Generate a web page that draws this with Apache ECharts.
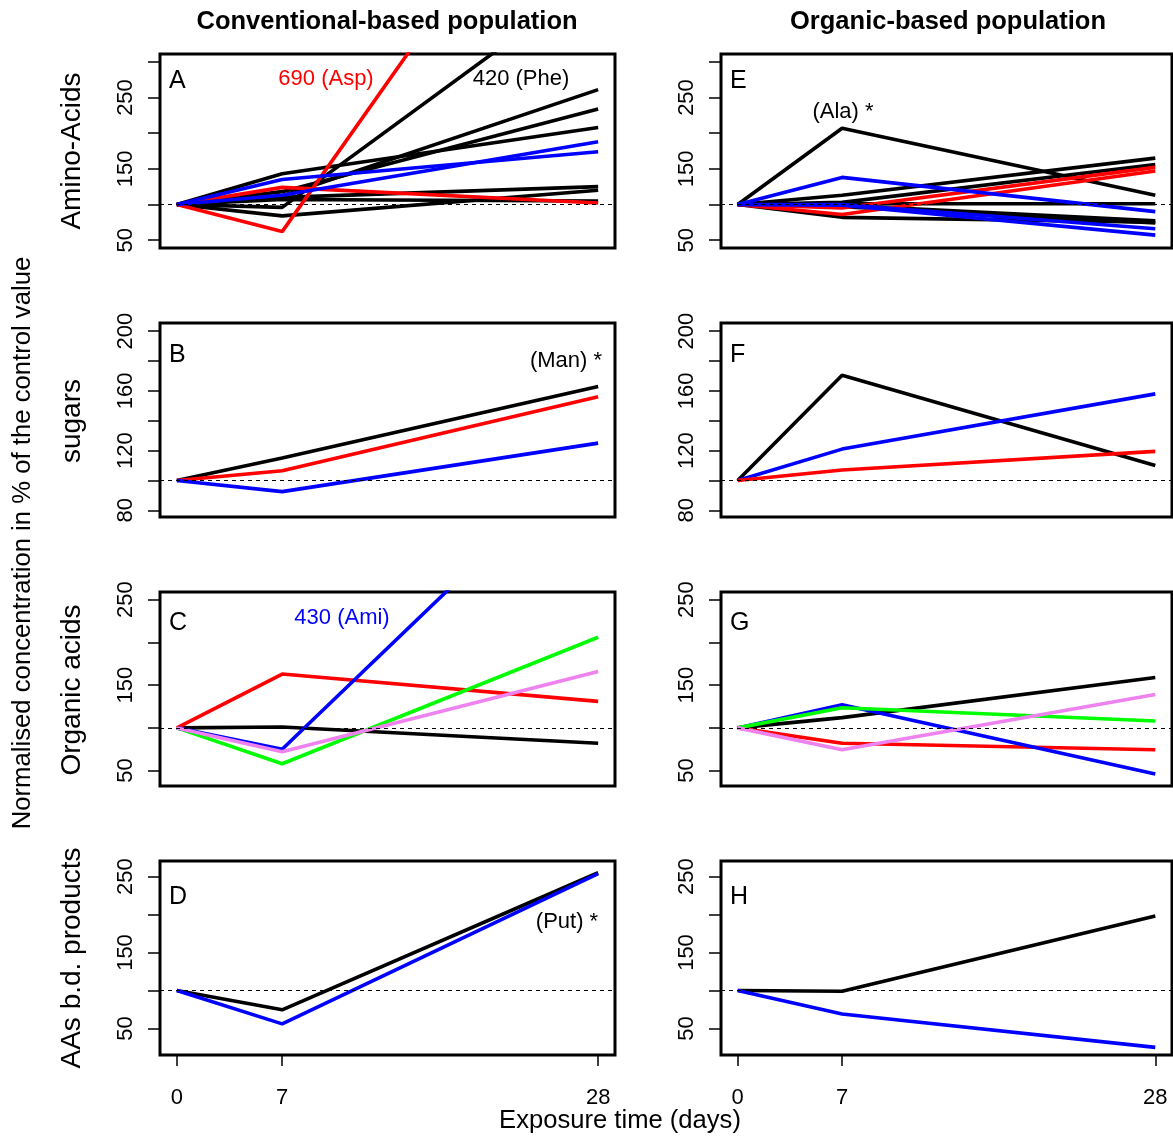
<!DOCTYPE html>
<html>
<head>
<meta charset="utf-8">
<script src="https://cdn.jsdelivr.net/npm/echarts@6/dist/echarts.min.js"></script>
<style>
html, body { margin: 0; padding: 0; background: #fff; }
#main { width: 1173px; height: 1138px; }
</style>
</head>
<body>
<div id="main"></div>
<script>
/* 时间点 (天) */
var days = [0, 7, 28];

// A: amino acids, conventional-based population  (values at day 0 / 7 / 28)
var aaConvBlack = [[100, 96, 420], [100, 112, 261], [100, 118, 234], [100, 143, 208], [100, 110, 125], [100, 84, 120], [100, 107, 105]];
var aaConvBlue = [[100, 135, 174], [100, 113, 188]];
var aaConvRed = [[100, 62, 690], [100, 124, 102]];

// E: amino acids, organic-based population
var aaOrgBlack = [[100, 207, 113], [100, 113, 165], [100, 103, 156], [100, 101, 101], [100, 82, 75], [100, 99, 77], [100, 97, 74]];
var aaOrgBlue = [[100, 138, 90], [100, 100, 66], [100, 99, 57]];
var aaOrgRed = [[100, 86, 147], [100, 95, 152]];

// B / F: sugars
var sugConvBlack = [[100, 115, 163]];
var sugConvRed = [[100, 106.5, 156]];
var sugConvBlue = [[100, 92.5, 125]];
var sugOrgBlack = [[100, 170.5, 110]];
var sugOrgBlue = [[100, 121, 158]];
var sugOrgRed = [[100, 107, 119.5]];

// C / G: organic acids
var oaConvRed = [[100, 163, 131]];
var oaConvGreen = [[100, 58, 206]];
var oaConvViolet = [[100, 72, 166]];
var oaConvBlack = [[100, 101, 82]];
var oaConvBlue = [[100, 75, 430]];
var oaOrgBlack = [[100, 112, 159]];
var oaOrgGreen = [[100, 123.5, 108]];
var oaOrgRed = [[100, 82, 74.5]];
var oaOrgViolet = [[100, 74.5, 139]];
var oaOrgBlue = [[100, 127, 46]];

// D / H: AAs breakdown products
var prConvBlack = [[100, 74.5, 255]];
var prConvBlue = [[100, 56, 254]];
var prOrgBlack = [[100, 99, 198]];
var prOrgBlue = [[100, 69, 25]];

// axis ticks / labels
var xTicks = [0, 7, 28];
var yTicksAA = [50, 100, 150, 200, 250, 300];
var yLabelsAA = [50, 150, 250];
var yTicksSug = [80, 100, 120, 140, 160, 180, 200];
var yLabelsSug = [80, 120, 160, 200];
var yTicksOA = [50, 100, 150, 200, 250];
var yLabelsOA = [50, 150, 250];
var yTicksPr = [50, 100, 150, 200, 250];
var yLabelsPr = [50, 150, 250];

var FONT = '"Liberation Sans", Arial, Helvetica, sans-serif';

var rowAxis = [
	{ min: 39, max: 311, ticks: yTicksAA, labels: yLabelsAA },
	{ min: 75.5, max: 205.5, ticks: yTicksSug, labels: yLabelsSug },
	{ min: 32, max: 259, ticks: yTicksOA, labels: yLabelsOA },
	{ min: 15, max: 270.5, ticks: yTicksPr, labels: yLabelsPr }
];

// 面板: row, col, 线组
var panels = [
	{ row: 0, col: 0, groups: [[aaConvBlack, '#000000'], [aaConvRed, '#ff0000'], [aaConvBlue, '#0000ff']] },
	{ row: 0, col: 1, groups: [[aaOrgBlack, '#000000'], [aaOrgRed, '#ff0000'], [aaOrgBlue, '#0000ff']] },
	{ row: 1, col: 0, groups: [[sugConvBlack, '#000000'], [sugConvRed, '#ff0000'], [sugConvBlue, '#0000ff']] },
	{ row: 1, col: 1, groups: [[sugOrgBlack, '#000000'], [sugOrgBlue, '#0000ff'], [sugOrgRed, '#ff0000']] },
	{ row: 2, col: 0, groups: [[oaConvBlack, '#000000'], [oaConvRed, '#ff0000'], [oaConvGreen, '#00ff00'], [oaConvBlue, '#0000ff'], [oaConvViolet, '#ee82ee']] },
	{ row: 2, col: 1, groups: [[oaOrgBlack, '#000000'], [oaOrgRed, '#ff0000'], [oaOrgBlue, '#0000ff'], [oaOrgGreen, '#00ff00'], [oaOrgViolet, '#ee82ee']] },
	{ row: 3, col: 0, groups: [[prConvBlack, '#000000'], [prConvBlue, '#0000ff']] },
	{ row: 3, col: 1, groups: [[prOrgBlack, '#000000'], [prOrgBlue, '#0000ff']] }
];

var colLeft = [160, 721];
var colWidth = [455, 451];
var rowTop = [54, 323, 592, 861];
var rowHeight = 194;

var grids = [], xAxes = [], yAxes = [], series = [];

for (var i = 0; i < panels.length; i++) {
	var p = panels[i];
	var ax = rowAxis[p.row];
	var bottomRow = (p.row === 3);
	grids.push({
		left: colLeft[p.col], top: rowTop[p.row], width: colWidth[p.col], height: rowHeight,
		show: true, borderWidth: 3, borderColor: '#000', backgroundColor: 'transparent'
	});
	xAxes.push({
		type: 'value', gridIndex: i, min: -1.12, max: 29.12,
		splitLine: { show: false },
		axisLine: { show: false, onZero: false },
		axisTick: { show: bottomRow, customValues: xTicks, length: 11, lineStyle: { color: '#000', width: 1.5 } },
		axisLabel: { show: bottomRow, customValues: xTicks, margin: 32, fontSize: 22, color: '#000', fontFamily: FONT }
	});
	yAxes.push({
		type: 'value', gridIndex: i, min: ax.min, max: ax.max,
		splitLine: { show: false },
		axisLine: { show: false, onZero: false },
		axisTick: { show: true, customValues: ax.ticks, length: 12, lineStyle: { color: '#000', width: 1.5 } },
		axisLabel: { customValues: ax.labels, rotate: 90, margin: 23, fontSize: 22, color: '#000', fontFamily: FONT }
	});
	// 100% 参考线
	series.push({
		type: 'line', xAxisIndex: i, yAxisIndex: i, data: [],
		silent: true, animation: false,
		markLine: {
			silent: true, animation: false, symbol: ['none', 'none'],
			label: { show: false },
			lineStyle: { type: [4, 4], width: 1, color: '#000' },
			data: [{ yAxis: 100 }]
		}
	});
	for (var g = 0; g < p.groups.length; g++) {
		var rows = p.groups[g][0];
		var color = p.groups[g][1];
		for (var r = 0; r < rows.length; r++) {
			var pts = [];
			for (var k = 0; k < days.length; k++) {
				pts.push([days[k], rows[r][k]]);
			}
			series.push({
				type: 'line', xAxisIndex: i, yAxisIndex: i, data: pts,
				symbol: 'none', showSymbol: false, clip: true,
				silent: true, animation: false,
				lineStyle: { color: color, width: 3.6 },
				itemStyle: { color: color }
			});
		}
	}
}

function txt(x, y, s, size, opts) {
	opts = opts || {};
	return {
		type: 'text', x: x, y: y, rotation: opts.rot || 0, silent: true,
		style: {
			text: s, fill: opts.color || '#000',
			font: (opts.bold ? 'bold ' : '') + size + 'px ' + FONT,
			align: opts.align || 'center', verticalAlign: 'middle'
		}
	};
}

var graphics = [
	txt(387, 22, 'Conventional-based population', 25.5, { bold: true }),
	txt(948, 22, 'Organic-based population', 25.5, { bold: true }),
	txt(169, 81, 'A', 25, { align: 'left' }),
	txt(730, 81, 'E', 25, { align: 'left' }),
	txt(169, 355, 'B', 25, { align: 'left' }),
	txt(730, 355, 'F', 25, { align: 'left' }),
	txt(169, 623, 'C', 25, { align: 'left' }),
	txt(730, 623, 'G', 25, { align: 'left' }),
	txt(169, 897, 'D', 25, { align: 'left' }),
	txt(730, 897, 'H', 25, { align: 'left' }),
	txt(326, 79, '690 (Asp)', 22, { color: '#ff0000' }),
	txt(521, 79, '420 (Phe)', 22),
	txt(843, 112, '(Ala) *', 22),
	txt(566, 361, '(Man) *', 22),
	txt(342, 618, '430 (Ami)', 22, { color: '#0000ff' }),
	txt(567, 922, '(Put) *', 22),
	txt(72, 151, 'Amino-Acids', 28, { rot: Math.PI / 2 }),
	txt(72, 421, 'sugars', 28, { rot: Math.PI / 2 }),
	txt(72, 690, 'Organic acids', 28, { rot: Math.PI / 2 }),
	txt(72, 958, 'AAs b.d. products', 28, { rot: Math.PI / 2 }),
	txt(23, 543, 'Normalised concentration in % of the control value', 25.7, { rot: Math.PI / 2 }),
	txt(620, 1121, 'Exposure time (days)', 25.6)
];

var chart = echarts.init(document.getElementById('main'));
chart.setOption({
	backgroundColor: '#fff',
	animation: false,
	grid: grids,
	xAxis: xAxes,
	yAxis: yAxes,
	series: series,
	graphic: graphics
});
</script>
</body>
</html>
